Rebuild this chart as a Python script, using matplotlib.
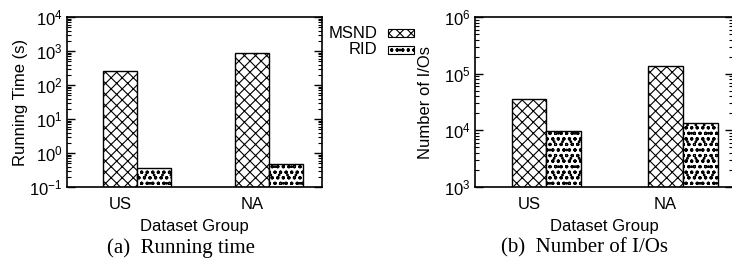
import numpy as np
import matplotlib
matplotlib.use("Agg")
import matplotlib.pyplot as plt
from matplotlib.patches import Rectangle
from matplotlib.ticker import LogLocator, NullFormatter

# data
groups = ["US", "NA"]
series = ["MSND", "RID"]
hatches = ["xxx", "ooo.."]
run_time = {"MSND": [260, 870], "RID": [0.27, 0.39]}
num_ios = {"MSND": [35500, 136000], "RID": [8700, 12300]}

plt.rcParams["font.family"] = ["Liberation Sans", "DejaVu Sans"]
plt.rcParams["hatch.linewidth"] = 0.8
plt.rcParams["font.size"] = 12

fig = plt.figure(figsize=(7.32, 2.63), dpi=100)
ax1 = fig.add_axes([0.0915, 0.289, 0.348, 0.646])
ax2 = fig.add_axes([0.649, 0.289, 0.353, 0.646])

x = np.arange(len(groups)) + 1
w = 0.255


def draw(ax, data, ylim, ylabel, xlim, lpad):
    for i, s in enumerate(series):
        ax.bar(x + (i - 0.5) * w, data[s], width=w, bottom=ylim[0],
               facecolor="white", edgecolor="black", linewidth=1.0,
               hatch=hatches[i])
    ax.set_yscale("log")
    ax.set_ylim(*ylim)
    ax.set_xlim(*xlim)
    ax.set_xticks(x - w / 2)
    ax.set_xticklabels(groups)
    ax.tick_params(axis="x", length=0, pad=7)
    ax.yaxis.set_major_locator(LogLocator(base=10, numticks=10))
    ax.yaxis.set_minor_locator(LogLocator(base=10, subs=np.arange(2, 10), numticks=10))
    ax.yaxis.set_minor_formatter(NullFormatter())
    ax.tick_params(axis="y", which="major", direction="in", length=6, width=1,
                   left=True, right=True, pad=3)
    ax.tick_params(axis="y", which="minor", direction="in", length=3, width=0.8,
                   left=True, right=True)
    ax.set_ylabel(ylabel, labelpad=lpad)
    ax.set_xlabel("Dataset Group", labelpad=5)
    for sp in ax.spines.values():
        sp.set_linewidth(1.2)


draw(ax1, run_time, (0.1, 1e4), "Running Time (s)", (0.47, 2.40), 1)
draw(ax2, num_ios, (1e3, 1e6), "Number of I/Os", (0.478, 2.37), 8)

# captions
fig.text(0.247, 1 - 248 / 263, "(a)  Running time", family="Liberation Serif",
         fontsize=15, ha="center", va="center")
fig.text(0.798, 1 - 248 / 263, "(b)  Number of I/Os", family="Liberation Serif",
         fontsize=15, ha="center", va="center")

# legend between the two panels
for i, s in enumerate(series):
    yc = 1 - (33 + 17 * i) / 263
    fig.text(377 / 732, yc, s, ha="right", va="center", fontsize=12)
    fig.patches.append(Rectangle((388 / 732, yc - 4 / 263), 26 / 732, 8 / 263,
                                 transform=fig.transFigure, facecolor="white",
                                 edgecolor="black", linewidth=0.8,
                                 hatch=hatches[i]))

fig.savefig("out.png", dpi=100)
